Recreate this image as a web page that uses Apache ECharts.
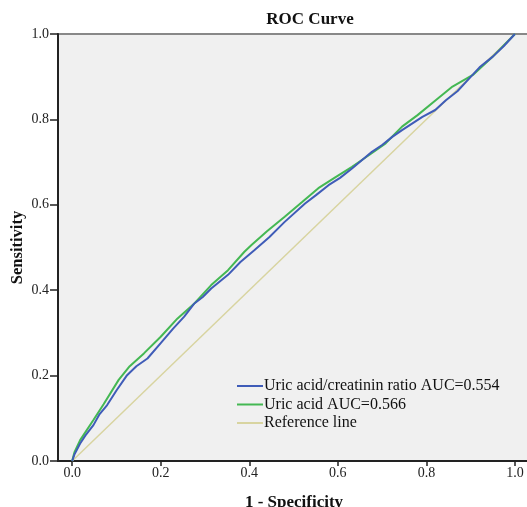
<!DOCTYPE html>
<html><head><meta charset="utf-8">
<script src="https://cdn.jsdelivr.net/npm/echarts@6/dist/echarts.min.js"></script>
<style>html,body{margin:0;padding:0;background:#fff}#c{width:527px;height:507px}</style>
</head><body><div id="c"></div>
<script>
const title = 'ROC Curve';
const xName = '1 - Specificity';
const yName = 'Sensitivity';
const tickValues = [0, 0.2, 0.4, 0.6, 0.8, 1.0];
const seriesNames = ['Uric acid/creatinin ratio AUC=0.554', 'Uric acid AUC=0.566', 'Reference line'];
const ratioCurve = [[0,0],[0.005,0.015],[0.018,0.041],[0.03,0.06],[0.048,0.084],[0.062,0.11],[0.079,0.131],[0.1,0.165],[0.124,0.201],[0.145,0.222],[0.17,0.24],[0.2,0.276],[0.228,0.31],[0.253,0.338],[0.276,0.369],[0.295,0.384],[0.314,0.404],[0.352,0.436],[0.38,0.466],[0.412,0.494],[0.445,0.524],[0.48,0.56],[0.526,0.603],[0.55,0.622],[0.579,0.646],[0.605,0.663],[0.632,0.685],[0.677,0.724],[0.7,0.74],[0.723,0.759],[0.745,0.775],[0.791,0.806],[0.82,0.822],[0.844,0.845],[0.87,0.866],[0.897,0.896],[0.92,0.922],[0.95,0.947],[0.975,0.972],[1,1]];
const uricCurve = [[0,0],[0.005,0.02],[0.018,0.049],[0.048,0.096],[0.071,0.133],[0.105,0.19],[0.13,0.222],[0.162,0.252],[0.2,0.291],[0.238,0.334],[0.276,0.369],[0.314,0.412],[0.352,0.447],[0.389,0.49],[0.405,0.506],[0.44,0.538],[0.48,0.572],[0.52,0.607],[0.556,0.639],[0.595,0.665],[0.632,0.689],[0.67,0.716],[0.708,0.744],[0.745,0.783],[0.78,0.81],[0.821,0.845],[0.859,0.877],[0.905,0.904],[0.95,0.947],[1,1]];
const refLine = [[0,0],[1,1]];

const serif = '"Liberation Serif", "DejaVu Serif", serif';
const chart = echarts.init(document.getElementById('c'));
chart.setOption({
  animation: false,
  backgroundColor: '#ffffff',
  title: {text: title, left: 305, top: 6, textAlign: 'center',
    textStyle: {fontFamily: serif, fontSize: 17, fontWeight: 'bold', color: '#111'}},
  grid: {left: 58, top: 34, right: -3, bottom: 46, show: true, backgroundColor: '#f0f0f0',
    borderColor: '#888888', borderWidth: 2, containLabel: false, outerBoundsMode: 'none'},
  legend: {orient: 'vertical', left: 232, top: 373, itemWidth: 26, itemHeight: 2, itemGap: 2.5,
    data: seriesNames, icon: 'rect',
    textStyle: {fontFamily: serif, fontSize: 16, color: '#111', padding: [0, 0, 0, -4]}},
  xAxis: {type: 'value', min: -0.032, max: 1.034, name: xName, nameLocation: 'middle', nameGap: 33,
    nameMoveOverlap: false,
    nameTextStyle: {fontFamily: serif, fontSize: 17, fontWeight: 'bold', color: '#111'},
    axisLine: {show: true, onZero: false, lineStyle: {color: '#222', width: 2}},
    axisTick: {show: true, length: 5, customValues: tickValues, lineStyle: {color: '#222', width: 1.5}},
    axisLabel: {customValues: tickValues, formatter: v => v.toFixed(1), fontFamily: serif, fontSize: 14, color: '#222', margin: 5},
    splitLine: {show: false}},
  yAxis: {type: 'value', min: 0, max: 1, interval: 0.2, name: yName, nameLocation: 'middle', nameGap: 32,
    nameMoveOverlap: false,
    nameTextStyle: {fontFamily: serif, fontSize: 16.5, fontWeight: 'bold', color: '#111'},
    axisLine: {show: true, onZero: false, lineStyle: {color: '#222', width: 2}},
    axisTick: {show: true, length: 8, lineStyle: {color: '#222', width: 1.5}},
    axisLabel: {formatter: v => v.toFixed(1), fontFamily: serif, fontSize: 14, color: '#222', margin: 9},
    splitLine: {show: false}},
  series: [
    {name: seriesNames[2], type: 'line', data: refLine, symbol: 'none', z: 1,
      lineStyle: {color: '#d8d4a0', width: 1.5}, itemStyle: {color: '#d8d4a0'}},
    {name: seriesNames[0], type: 'line', data: ratioCurve, symbol: 'none', z: 3,
      lineStyle: {color: '#3f5cb8', width: 2}, itemStyle: {color: '#3f5cb8'}},
    {name: seriesNames[1], type: 'line', data: uricCurve, symbol: 'none', z: 2,
      lineStyle: {color: '#44b853', width: 2}, itemStyle: {color: '#44b853'}}
  ]
});
</script></body></html>
